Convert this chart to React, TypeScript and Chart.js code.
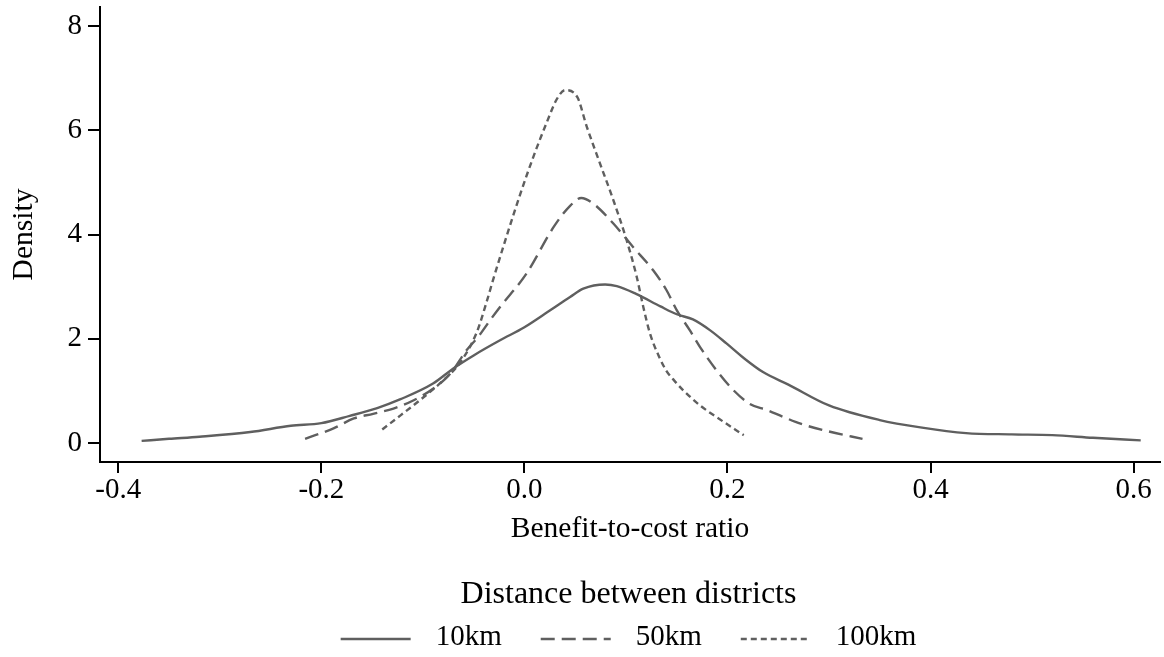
import React, { useEffect, useRef } from 'react';
import { Chart, registerables } from 'chart.js';

Chart.register(...registerables);

// ---- data ----
const seriesLabels = ['10km', '50km', '100km'];

const x10 = [-0.377, -0.35, -0.32, -0.27, -0.23, -0.2, -0.172, -0.145, -0.122, -0.09, -0.07, -0.05, -0.024, 0.0, 0.025, 0.045, 0.058, 0.0795, 0.091, 0.11, 0.134, 0.15, 0.166, 0.183, 0.199, 0.216, 0.235, 0.26, 0.3, 0.35, 0.39, 0.435, 0.48, 0.52, 0.56, 0.607];
const y10 = [0.04, 0.08, 0.12, 0.21, 0.33, 0.38, 0.52, 0.67, 0.84, 1.14, 1.43, 1.68, 1.97, 2.22, 2.54, 2.8, 2.96, 3.04, 3.01, 2.86, 2.62, 2.47, 2.37, 2.16, 1.91, 1.63, 1.36, 1.12, 0.72, 0.44, 0.3, 0.19, 0.165, 0.15, 0.1, 0.05];

const x50 = [-0.216, -0.188, -0.168, -0.149, -0.129, -0.109, -0.09, -0.073, -0.057, -0.045, -0.034, -0.024, 0.002, 0.029, 0.045, 0.056, 0.068, 0.0876, 0.107, 0.127, 0.14, 0.15, 0.163, 0.173, 0.189, 0.206, 0.222, 0.239, 0.255, 0.272, 0.3, 0.333];
const y50 = [0.08, 0.28, 0.47, 0.56, 0.66, 0.82, 1.04, 1.33, 1.78, 2.05, 2.35, 2.61, 3.25, 4.15, 4.55, 4.7, 4.59, 4.21, 3.76, 3.31, 2.93, 2.55, 2.16, 1.84, 1.4, 1.01, 0.75, 0.63, 0.5, 0.37, 0.22, 0.08];

const x100 = [-0.14, -0.122, -0.103, -0.08, -0.063, -0.047, -0.037, -0.031, -0.017, -0.004, 0.009, 0.022, 0.032, 0.04, 0.052, 0.0614, 0.0745, 0.0876, 0.1007, 0.1106, 0.1171, 0.1237, 0.1335, 0.14, 0.1466, 0.157, 0.173, 0.189, 0.216];
const y100 = [0.26, 0.53, 0.82, 1.2, 1.55, 2.12, 2.72, 3.12, 4.0, 4.78, 5.5, 6.15, 6.6, 6.77, 6.64, 6.07, 5.36, 4.66, 3.89, 3.19, 2.61, 2.1, 1.62, 1.38, 1.22, 1.0, 0.72, 0.5, 0.15];

const xTicks = [-0.4, -0.2, 0.0, 0.2, 0.4, 0.6];
const yTicks = [0, 2, 4, 6, 8];

const xTitle = 'Benefit-to-cost ratio';
const yTitle = 'Density';
const legendTitle = 'Distance between districts';

// ---- styles ----
const FONT = "'Liberation Serif', 'Times New Roman', Times, serif";
const LINE_COLOR = '#5f5f5f';
const dashes: number[][] = [[], [14, 7], [6, 4]];

const toPoints = (xs: number[], ys: number[]) => xs.map((x, i) => ({ x, y: ys[i] }));

const legendPlugin = {
  id: 'bottomLegend',
  afterDraw(chart: any) {
    const ctx = chart.ctx as CanvasRenderingContext2D;
    const { left, right } = chart.chartArea;
    const cx = (left + right) / 2 - 1.5;
    ctx.save();
    ctx.fillStyle = '#000';
    ctx.textBaseline = 'alphabetic';
    ctx.textAlign = 'center';
    ctx.font = `32px ${FONT}`;
    ctx.fillText(legendTitle, cx, 603);

    ctx.font = `29px ${FONT}`;
    const lineW = 70;
    const gapText = 25;
    const gapItem = 39;
    const ds = chart.data.datasets;
    const widths = ds.map((d: any) => lineW + gapText + ctx.measureText(d.label).width);
    const total = widths.reduce((a: number, b: number) => a + b, 0) + gapItem * (widths.length - 1);
    let x = cx - total / 2;
    ds.forEach((d: any, i: number) => {
      ctx.strokeStyle = d.borderColor;
      ctx.lineWidth = d.borderWidth;
      ctx.setLineDash(d.borderDash || []);
      ctx.beginPath();
      ctx.moveTo(x, 639);
      ctx.lineTo(x + lineW, 639);
      ctx.stroke();
      ctx.setLineDash([]);
      ctx.textAlign = 'left';
      ctx.fillText(d.label, x + lineW + gapText, 645);
      x += widths[i] + gapItem;
    });
    ctx.restore();
  },
};

export default function App() {
  const canvasRef = useRef<HTMLCanvasElement | null>(null);

  useEffect(() => {
    if (!canvasRef.current) return;
    const series = [toPoints(x10, y10), toPoints(x50, y50), toPoints(x100, y100)];
    const chart = new Chart(canvasRef.current, {
      type: 'line',
      data: {
        datasets: series.map((data, i) => ({
          label: seriesLabels[i],
          data,
          borderColor: LINE_COLOR,
          backgroundColor: LINE_COLOR,
          borderWidth: 2.4,
          borderDash: dashes[i],
          pointRadius: 0,
          fill: false,
          cubicInterpolationMode: 'monotone' as const,
        })),
      },
      options: {
        responsive: false,
        animation: false,
        devicePixelRatio: 1,
        layout: { padding: { left: 0, right: 4, top: 7, bottom: 109.6 } },
        plugins: {
          legend: { display: false },
          tooltip: { enabled: false },
        },
        scales: {
          x: {
            type: 'linear',
            min: -0.418,
            max: 0.626,
            afterBuildTicks: (s: any) => {
              s.ticks = xTicks.map((v) => ({ value: v }));
            },
            afterFit: (s: any) => {
              s.height = 85.4;
              s.paddingLeft = 0;
              s.paddingRight = 0;
            },
            ticks: {
              autoSkip: false,
              maxRotation: 0,
              padding: 0,
              color: '#000',
              font: { family: FONT, size: 29 },
              callback: (v: any) => Number(v).toFixed(1),
            },
            grid: { display: true, drawOnChartArea: false, drawTicks: true, tickLength: 11, color: '#000', lineWidth: 2 },
            border: { display: true, color: '#000', width: 2 },
            title: { display: true, text: xTitle, color: '#000', font: { family: FONT, size: 29.5 }, padding: { top: 0, bottom: 0 } },
          },
          y: {
            type: 'linear',
            min: -0.365,
            max: 8.365,
            afterBuildTicks: (s: any) => {
              s.ticks = yTicks.map((v) => ({ value: v }));
            },
            afterFit: (s: any) => {
              s.width = 100;
              s.paddingTop = 0;
              s.paddingBottom = 0;
            },
            ticks: {
              autoSkip: false,
              padding: 6,
              color: '#000',
              font: { family: FONT, size: 29 },
              callback: (v: any) => String(v),
            },
            grid: { display: true, drawOnChartArea: false, drawTicks: true, tickLength: 12, color: '#000', lineWidth: 2 },
            border: { display: true, color: '#000', width: 2 },
            title: { display: true, text: yTitle, color: '#000', font: { family: FONT, size: 29.5 }, padding: { top: 6.6, bottom: 0 } },
          },
        },
      },
      plugins: [legendPlugin],
    });
    return () => chart.destroy();
  }, []);

  return (
    <div style={{ position: 'fixed', left: 0, top: 0, width: 1164, height: 657, background: '#fff' }}>
      <canvas ref={canvasRef} width={1164} height={657} style={{ display: 'block', width: 1164, height: 657 }} />
    </div>
  );
}
